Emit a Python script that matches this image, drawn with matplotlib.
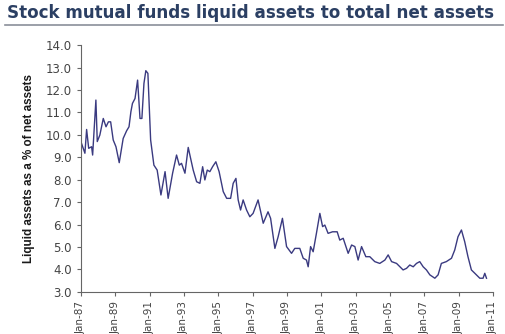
import numpy as np
import matplotlib.pyplot as plt
from matplotlib.lines import Line2D

# year (decimal) and liquid assets as % of net assets
years = [1987.0, 1987.23, 1987.33, 1987.45, 1987.62, 1987.68, 1987.87, 1987.95,
         1988.1, 1988.3, 1988.46, 1988.6, 1988.73, 1988.88, 1989.04, 1989.23,
         1989.46, 1989.66, 1989.8, 1989.91, 1990.0, 1990.15, 1990.3, 1990.44,
         1990.55, 1990.67, 1990.78, 1990.9, 1990.98, 1991.06, 1991.25, 1991.44,
         1991.66, 1991.9, 1992.08, 1992.34, 1992.57, 1992.73, 1992.86, 1993.06,
         1993.25, 1993.39, 1993.54, 1993.74, 1993.93, 1994.09, 1994.22, 1994.36,
         1994.51, 1994.67, 1994.86, 1995.05, 1995.29, 1995.49, 1995.72, 1995.87,
         1996.03, 1996.16, 1996.3, 1996.45, 1996.65, 1996.84, 1997.03, 1997.32,
         1997.62, 1997.9, 1998.05, 1998.3, 1998.49, 1998.74, 1998.98, 1999.27,
         1999.46, 1999.75, 1999.95, 2000.14, 2000.24, 2000.38, 2000.53, 2000.72,
         2000.92, 2001.08, 2001.21, 2001.4, 2001.66, 2001.93, 2002.08, 2002.28,
         2002.57, 2002.77, 2002.96, 2003.15, 2003.35, 2003.6, 2003.83, 2004.12,
         2004.41, 2004.71, 2004.9, 2005.1, 2005.39, 2005.77, 2005.97, 2006.16,
         2006.36, 2006.55, 2006.74, 2006.94, 2007.13, 2007.33, 2007.62, 2007.81,
         2008.0, 2008.29, 2008.59, 2008.78, 2008.97, 2009.17, 2009.36, 2009.55,
         2009.75, 2009.95, 2010.24, 2010.43, 2010.53, 2010.63]
liquid_pct = [9.69, 9.18, 10.24, 9.4, 9.47, 9.1, 11.55, 9.7,
              9.99, 10.73, 10.36, 10.58, 10.58, 9.77, 9.47, 8.76,
              9.84, 10.18, 10.36, 11.03, 11.4, 11.62, 12.44, 10.73,
              10.73, 12.29, 12.86, 12.74, 11.25, 9.77, 8.65, 8.43,
              7.32, 8.36, 7.17, 8.29, 9.1, 8.65, 8.73, 8.29,
              9.44, 8.95, 8.43, 7.91, 7.84, 8.58, 7.99, 8.43,
              8.36, 8.58, 8.8, 8.36, 7.47, 7.17, 7.17, 7.84,
              8.06, 7.1, 6.65, 7.1, 6.65, 6.35, 6.5, 7.1,
              6.06, 6.57, 6.28, 4.94, 5.46, 6.28, 5.02, 4.72,
              4.94, 4.94, 4.5, 4.42, 4.12, 5.02, 4.79, 5.61,
              6.5, 5.91, 5.98, 5.61, 5.68, 5.68, 5.31, 5.39,
              4.72, 5.09, 5.02, 4.42, 5.02, 4.57, 4.57, 4.35,
              4.27, 4.42, 4.65, 4.35, 4.27, 3.98, 4.05, 4.2,
              4.12, 4.27, 4.35, 4.12, 3.98, 3.76, 3.61, 3.76,
              4.27, 4.35, 4.5, 4.87, 5.46, 5.76, 5.24, 4.57,
              3.98, 3.83, 3.61, 3.61, 3.83, 3.61]

tick_years = list(range(1987, 2012, 2))
tick_labels = ["Jan-%02d" % (y % 100) for y in tick_years]
y_ticks = np.arange(3, 14.5, 1)

fig = plt.figure(figsize=(5.06, 3.34), dpi=100)
ax = fig.add_axes([0.160, 0.126, 0.814, 0.739])

ax.plot(years, liquid_pct, color="#3a3a80", lw=1.0)

ax.set_xlim(1987, 2011)
ax.set_ylim(3, 14)
ax.set_xticks(tick_years)
ax.set_xticklabels(tick_labels, rotation=90, fontsize=7.5, color="#444444")
ax.set_yticks(y_ticks)
ax.set_yticklabels(["%.1f" % v for v in y_ticks], fontsize=8.5, color="#444444")
ax.tick_params(direction="out", length=3, color="#666666", width=0.8)
for s in ["top", "right"]:
    ax.spines[s].set_visible(False)
for s in ["left", "bottom"]:
    ax.spines[s].set_color("#666666")
    ax.spines[s].set_linewidth(0.8)

ax.set_ylabel("Liquid assets as a % of net assets", fontsize=8.4, color="#1a1a1a",
              fontfamily="Liberation Sans", fontweight="bold", labelpad=8)

title = fig.text(0.014, 0.945, "Stock mutual funds liquid assets to total net assets",
                 fontsize=12, fontweight="bold", color="#2b3f63", family="DejaVu Sans",
                 va="baseline")
# fit the title to the width it has in the original
fig.canvas.draw()
w = title.get_window_extent().width
title.set_fontsize(12 * 486 / w)
fig.add_artist(Line2D([0.01, 0.995], [0.925, 0.925], color="#8a8f99", lw=1.2))

fig.savefig("out.png", dpi=100)
